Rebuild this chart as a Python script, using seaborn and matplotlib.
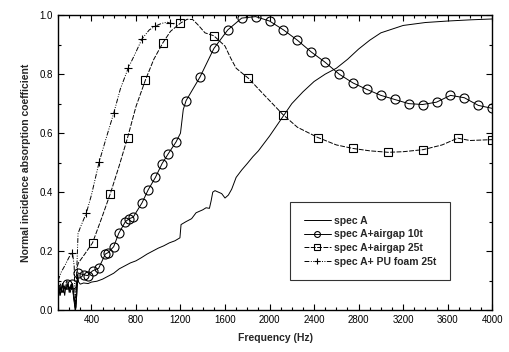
import matplotlib
matplotlib.use("Agg")
import matplotlib.pyplot as plt
from matplotlib.lines import Line2D
from matplotlib.ticker import MultipleLocator, FormatStrFormatter
import numpy as np
import seaborn as sns

# ---- spec A (plain line)
freq_a = [100, 110, 120, 130, 140, 150, 160, 170, 180, 190, 200, 210, 220, 230, 240,
          250, 256, 262, 268, 275, 285, 300, 330, 370, 400, 450, 500, 550, 600, 650,
          700, 750, 800, 850, 900, 950, 1000, 1050, 1100, 1150, 1195, 1205, 1250, 1300,
          1340, 1370, 1400, 1430, 1460, 1475, 1490, 1510, 1540, 1570, 1600, 1630, 1660,
          1700, 1750, 1800, 1850, 1900, 2000, 2100, 2200, 2300, 2400, 2500, 2600, 2700,
          2800, 2900, 3000, 3200, 3400, 3600, 3800, 4000]
vals_a = [0.07, 0.05, 0.08, 0.06, 0.09, 0.07, 0.05, 0.08, 0.07, 0.09, 0.06, 0.08, 0.07, 0.09, 0.06,
          0.03, 0.0, 0.01, 0.06, 0.12, 0.095, 0.088, 0.092, 0.09, 0.095, 0.098, 0.105, 0.115, 0.125, 0.14,
          0.15, 0.16, 0.167, 0.178, 0.19, 0.2, 0.21, 0.218, 0.228, 0.235, 0.245, 0.29, 0.30, 0.31,
          0.33, 0.335, 0.34, 0.347, 0.345, 0.37, 0.40, 0.405, 0.40, 0.395, 0.38, 0.39, 0.41,
          0.45, 0.475, 0.497, 0.52, 0.54, 0.59, 0.645, 0.70, 0.74, 0.775, 0.80, 0.82, 0.85,
          0.885, 0.915, 0.94, 0.965, 0.975, 0.98, 0.984, 0.987]

# ---- spec A + airgap 10t (circles)
freq_10 = [100, 110, 120, 130, 140, 150, 160, 170, 180, 190, 200, 210, 220, 230, 240, 256, 268,
           280, 330, 365, 410, 465, 525, 550, 600, 645, 705, 740, 775, 855, 910, 975, 1035, 1090,
           1160, 1200, 1225, 1250, 1375, 1500, 1625, 1750, 1875, 2000, 2125, 2250, 2375, 2500,
           2625, 2750, 2875, 3000, 3125, 3250, 3375, 3500, 3625, 3750, 3875, 4000]
vals_10 = [0.06, 0.08, 0.05, 0.07, 0.09, 0.06, 0.08, 0.07, 0.09, 0.08, 0.07, 0.06, 0.08, 0.088, 0.04, 0.0, 0.05,
           0.126, 0.12, 0.117, 0.133, 0.142, 0.19, 0.195, 0.215, 0.26, 0.30, 0.31, 0.315, 0.364, 0.408, 0.45, 0.497, 0.53,
           0.57, 0.60, 0.68, 0.71, 0.79, 0.887, 0.95, 0.99, 0.995, 0.98, 0.95, 0.915, 0.875, 0.84,
           0.80, 0.77, 0.748, 0.728, 0.714, 0.70, 0.697, 0.705, 0.728, 0.72, 0.694, 0.684]
marks_10 = [180, 230, 280, 330, 365, 410, 465, 525, 550, 600, 645, 705, 740, 775, 855, 910, 975,
            1035, 1090, 1160, 1250, 1375, 1500, 1625, 1750, 1875, 2000, 2125, 2250, 2375, 2500,
            2625, 2750, 2875, 3000, 3125, 3250, 3375, 3500, 3625, 3750, 3875, 4000]

# ---- spec A + airgap 25t (squares)
freq_25 = [100, 120, 140, 160, 180, 200, 220, 240, 256, 275, 283, 340, 410, 490, 570, 650, 725,
           800, 885, 960, 1040, 1110, 1200, 1260, 1310, 1360, 1420, 1500, 1600, 1650, 1700, 1810,
           1950, 2120, 2250, 2435, 2600, 2750, 2900, 3065, 3200, 3380, 3550, 3690, 3800, 4000]
vals_25 = [0.07, 0.09, 0.06, 0.08, 0.10, 0.07, 0.09, 0.05, 0.0, 0.15, 0.16, 0.19, 0.228, 0.31, 0.395, 0.49, 0.585,
           0.69, 0.78, 0.85, 0.905, 0.945, 0.973, 0.986, 0.985, 0.966, 0.94, 0.93, 0.895, 0.855, 0.82, 0.786,
           0.73, 0.663, 0.62, 0.585, 0.56, 0.548, 0.54, 0.535, 0.537, 0.544, 0.56, 0.583, 0.575, 0.578]
marks_25 = [410, 570, 725, 885, 1040, 1200, 1500, 1810, 2120, 2435, 2750, 3065, 3380, 3690, 4000]

# ---- spec A + PU foam 25t (plus)
freq_pu = [100, 130, 160, 200, 230, 245, 256, 265, 280, 300, 355, 400, 470, 530, 600, 660,
           730, 800, 855, 920, 975, 1030, 1080, 1105, 1150]
vals_pu = [0.10, 0.13, 0.15, 0.18, 0.195, 0.15, 0.0, 0.1, 0.26, 0.28, 0.33, 0.39, 0.503, 0.58, 0.667, 0.75,
           0.82, 0.875, 0.92, 0.95, 0.963, 0.972, 0.976, 0.973, 0.97]
marks_pu = [230, 355, 470, 600, 730, 855, 975, 1105]

labels = ["spec A", "spec A+airgap 10t", "spec A+airgap 25t", "spec A+ PU foam 25t"]

sns.set_theme(style="ticks")
plt.rcParams['font.family'] = ['Liberation Sans', 'DejaVu Sans']
plt.rcParams['xtick.direction'] = 'in'
plt.rcParams['ytick.direction'] = 'in'

fig = plt.figure(figsize=(5.09, 3.52), dpi=100)
ax = fig.add_axes([0.114, 0.119, 0.853, 0.838])

series = [
    (freq_a, vals_a, None, dict(marker=None, linestyle='-')),
    (freq_10, vals_10, marks_10, dict(marker='o', markersize=6.5, linestyle='-')),
    (freq_25, vals_25, marks_25, dict(marker='s', markersize=6, linestyle=(0, (5, 1.5)))),
    (freq_pu, vals_pu, marks_pu, dict(marker='+', markersize=6, linestyle=(0, (5, 1.5, 1, 1.5, 1, 1.5)))),
]

handles = []
for (f, v, marks, style), lab in zip(series, labels):
    every = None
    if marks is not None:
        every = [i for i, x in enumerate(f) if x in marks]
    sns.lineplot(x=f, y=v, ax=ax, sort=False, color='black', linewidth=0.7,
                 markevery=every, markerfacecolor='none', markeredgecolor='black',
                 markeredgewidth=0.8, **style)
    handles.append(Line2D([], [], color='black', linewidth=0.7, markerfacecolor='none',
                          markeredgecolor='black', markeredgewidth=0.8, **style))

ax.set_xlim(100, 4000)
ax.set_ylim(0, 1.0)
ax.xaxis.set_major_locator(MultipleLocator(400))
ax.xaxis.set_minor_locator(MultipleLocator(100))
ax.yaxis.set_major_locator(MultipleLocator(0.2))
ax.yaxis.set_minor_locator(MultipleLocator(0.1))
ax.yaxis.set_major_formatter(FormatStrFormatter('%.1f'))
ax.tick_params(which='both', top=True, right=True, labelsize=7, colors='black', width=0.8)
ax.tick_params(which='major', length=4)
ax.tick_params(which='minor', length=2)
for s in ax.spines.values():
    s.set_linewidth(1.0)
    s.set_color('black')

ax.set_xlabel("Frequency (Hz)", fontsize=7.5, fontweight='bold', labelpad=6)
ax.set_ylabel("Normal incidence absorption coefficient", fontsize=7.5, fontweight='bold', labelpad=6)

leg = ax.legend(handles, labels, loc='upper left', bbox_to_anchor=(0.535, 0.366),
                prop={'weight': 'bold', 'size': 7.5}, frameon=True, fancybox=False,
                edgecolor='black', handlelength=2.6, handletextpad=0.3, borderpad=1.3,
                labelspacing=0.35, borderaxespad=0, markerscale=0.65)
leg.get_frame().set_linewidth(0.8)

fig.savefig("out.png", dpi=100)
